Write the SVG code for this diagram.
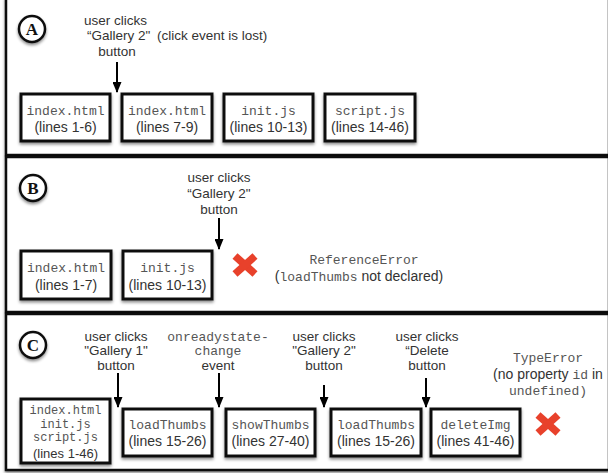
<svg xmlns="http://www.w3.org/2000/svg" width="608" height="473" viewBox="0 0 608 473">
<defs>
<filter id="sh" x="-20%" y="-20%" width="140%" height="150%">
<feDropShadow dx="0" dy="2" stdDeviation="1.5" flood-color="#000" flood-opacity="0.45"/>
</filter>
<marker id="ah" markerWidth="11" markerHeight="9" refX="10" refY="4.5" orient="auto" markerUnits="userSpaceOnUse" viewBox="0 0 11 9">
<path d="M0,0 L11,4.5 L0,9 Z" fill="#000"/>
</marker>
</defs>
<style>
.panel{fill:#fff;stroke:#111;stroke-width:2.5}
.box{fill:#fff;stroke:#111;stroke-width:3}
.mono{font-family:"Liberation Mono",monospace;font-size:13px;fill:#555;text-anchor:middle}
.sans{font-family:"Liberation Sans",Arial,sans-serif;font-size:14px;fill:#333;text-anchor:middle}
.lbl{font-family:"Liberation Sans",Arial,sans-serif;font-size:13.5px;fill:#333;text-anchor:middle}
.circ{fill:#fff;stroke:#111;stroke-width:2.5}
.let{font-family:"Liberation Serif",serif;font-weight:bold;font-size:17px;fill:#111;text-anchor:middle}
.arr{stroke:#000;stroke-width:2;fill:none}
.x{stroke:#e8412b;stroke-width:7.5}
.sm{font-size:12px}
</style>

<g id="panels">
<rect class="panel" x="6" y="-2" width="603" height="157" filter="url(#sh)"/>
<rect class="panel" x="6" y="157" width="603" height="155" filter="url(#sh)"/>
<rect class="panel" x="6" y="314" width="603" height="156" filter="url(#sh)"/>
</g>

<g id="panelA">
<g id="labelA"><circle class="circ" cx="32" cy="29" r="13" filter="url(#sh)"/><text class="let" x="32" y="35">A</text></g>
<g id="a1"><rect class="box" x="21" y="94" width="89" height="47" filter="url(#sh)"/><text class="mono" x="65.5" y="115">index.html</text><text class="sans" x="65.5" y="132">(lines 1-6)</text></g>
<g id="a2"><rect class="box" x="122" y="94" width="90" height="47" filter="url(#sh)"/><text class="mono" x="167" y="115">index.html</text><text class="sans" x="167" y="132">(lines 7-9)</text></g>
<g id="a3"><rect class="box" x="224" y="94" width="89" height="47" filter="url(#sh)"/><text class="mono" x="268.5" y="115">init.js</text><text class="sans" x="268.5" y="132">(lines 10-13)</text></g>
<g id="a4"><rect class="box" x="325" y="94" width="90" height="47" filter="url(#sh)"/><text class="mono" x="370" y="115">script.js</text><text class="sans" x="370" y="132">(lines 14-46)</text></g>
<g id="evA">
<text class="lbl" x="84" y="25" style="text-anchor:start">user clicks</text>
<text class="lbl" x="87" y="40" style="text-anchor:start">“Gallery 2"</text>
<text class="lbl" x="157" y="40" style="text-anchor:start">(click event is lost)</text>
<text class="lbl" x="117" y="56">button</text>
</g>
</g>

<g id="panelB">
<g id="labelB"><circle class="circ" cx="33" cy="188" r="13" filter="url(#sh)"/><text class="let" x="33" y="194">B</text></g>
<g id="b1"><rect class="box" x="21" y="251" width="90" height="48" filter="url(#sh)"/><text class="mono" x="66" y="272">index.html</text><text class="sans" x="66" y="290">(lines 1-7)</text></g>
<g id="b2"><rect class="box" x="123" y="251" width="89" height="48" filter="url(#sh)"/><text class="mono" x="167.5" y="272">init.js</text><text class="sans" x="167.5" y="290">(lines 10-13)</text></g>
<g id="evB">
<text class="lbl" x="219" y="182">user clicks</text>
<text class="lbl" x="219" y="198">“Gallery 2"</text>
<text class="lbl" x="219" y="214">button</text>
</g>
<g id="errB">
<g transform="translate(245,265)"><line class="x" x1="-10" y1="-9" x2="10" y2="9"/><line class="x" x1="10" y1="-9" x2="-10" y2="9"/></g>
<text class="mono" x="364" y="264">ReferenceError</text>
<text x="359" y="281" style="font-family:'Liberation Sans',Arial,sans-serif;font-size:14px;fill:#333;text-anchor:middle">(<tspan style="font-family:'Liberation Mono',monospace;font-size:13px;fill:#555">loadThumbs</tspan> not declared)</text>
</g>
</g>

<g id="panelC">
<g id="labelC"><circle class="circ" cx="33" cy="345" r="13" filter="url(#sh)"/><text class="let" x="33" y="351">C</text></g>
<g id="c1"><rect class="box" x="21" y="399" width="89" height="64" filter="url(#sh)"/>
<text class="mono sm" x="65.5" y="414">index.html</text><text class="mono sm" x="65.5" y="427.5">init.js</text><text class="mono sm" x="65.5" y="441">script.js</text><text class="sans" x="65.5" y="457.5" style="font-size:13px">(lines 1-46)</text></g>
<g id="c2"><rect class="box" x="123" y="409" width="89" height="47" filter="url(#sh)"/><text class="mono" x="167.5" y="429">loadThumbs</text><text class="sans" x="167.5" y="446">(lines 15-26)</text></g>
<g id="c3"><rect class="box" x="226" y="409" width="89" height="47" filter="url(#sh)"/><text class="mono" x="270.5" y="429">showThumbs</text><text class="sans" x="270.5" y="446">(lines 27-40)</text></g>
<g id="c4"><rect class="box" x="331" y="409" width="90" height="47" filter="url(#sh)"/><text class="mono" x="376" y="429">loadThumbs</text><text class="sans" x="376" y="446">(lines 15-26)</text></g>
<g id="c5"><rect class="box" x="431" y="409" width="89" height="47" filter="url(#sh)"/><text class="mono" x="475.5" y="429">deleteImg</text><text class="sans" x="475.5" y="446">(lines 41-46)</text></g>
<g id="evC1"><text class="lbl" x="116" y="341">user clicks</text><text class="lbl" x="116" y="355">"Gallery 1"</text><text class="lbl" x="116" y="370">button</text></g>
<g id="evC2"><text class="mono" x="218" y="341">onreadystate-</text><text class="mono" x="218" y="355">change</text><text class="lbl" x="218" y="370">event</text></g>
<g id="evC3"><text class="lbl" x="324" y="341">user clicks</text><text class="lbl" x="324" y="355">"Gallery 2"</text><text class="lbl" x="324" y="370">button</text></g>
<g id="evC4"><text class="lbl" x="427" y="341">user clicks</text><text class="lbl" x="427" y="355">“Delete</text><text class="lbl" x="427" y="370">button</text></g>
<g id="errC">
<text class="mono" x="548" y="362">TypeError</text>
<text x="548" y="379" style="font-family:'Liberation Sans',Arial,sans-serif;font-size:14px;fill:#333;text-anchor:middle">(no property <tspan style="font-family:'Liberation Mono',monospace;font-size:13px;fill:#555">id</tspan> in</text>
<text class="mono" x="548" y="395">undefined)</text>
<g transform="translate(548,424)"><line class="x" x1="-10" y1="-9" x2="10" y2="9"/><line class="x" x1="10" y1="-9" x2="-10" y2="9"/></g>
</g>
</g>

<g id="connectors">
<line class="arr" x1="117" y1="62" x2="117" y2="92" marker-end="url(#ah)"/>
<line class="arr" x1="219" y1="218" x2="219" y2="249" marker-end="url(#ah)"/>
<line class="arr" x1="118" y1="373" x2="118" y2="407" marker-end="url(#ah)"/>
<line class="arr" x1="219" y1="373" x2="219" y2="407" marker-end="url(#ah)"/>
<line class="arr" x1="324" y1="385" x2="324" y2="407" marker-end="url(#ah)"/>
<line class="arr" x1="426" y1="378" x2="426" y2="407" marker-end="url(#ah)"/>
</g>
</svg>
